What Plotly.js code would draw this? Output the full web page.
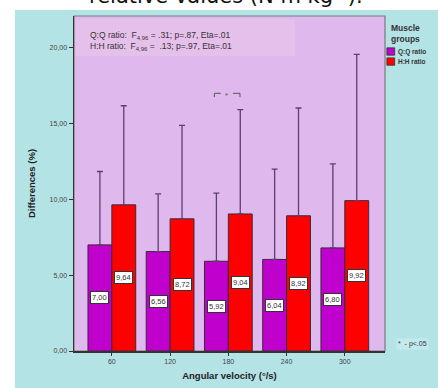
<!DOCTYPE html>
<html><head><meta charset="utf-8">
<script src="https://cdn.plot.ly/plotly-3.0.1.min.js"></script>
<style>html,body{margin:0;padding:0;background:#fff;}#chart{width:438px;height:388px;}</style>
</head><body><div id="chart"></div>
<script>
const categories = ['60', '120', '180', '240', '300'];
const seriesNames = ['Q:Q ratio', 'H:H ratio'];
const seriesColors = ['#c000cc', '#ff0000'];
const qqValues = [7.00, 6.56, 5.92, 6.04, 6.80];
const hhValues = [9.64, 8.72, 9.04, 8.92, 9.92];
const qqSD = [4.84, 3.81, 4.50, 5.96, 5.55];
const hhSD = [6.54, 6.16, 6.88, 7.11, 9.65];
const yTicks = [0, 5, 10, 15, 20];
const sigCategories = ['180'];
const sigHeights = [17.0];

const FONT = 'Liberation Sans, Arial';
const idx = categories.map((c, i) => i);
const off = 0.205;
const fmt = v => v.toFixed(2).replace('.', ',');
const values = [qqValues, hhValues];
const sds = [qqSD, hhSD];

const traces = values.map((vals, s) => ({
  type: 'bar', name: seriesNames[s], x: idx, y: vals,
  marker: {color: seriesColors[s], line: {color: '#3a2a3a', width: 1}},
  error_y: {type: 'data', array: sds[s], arrayminus: vals.map(() => 0), symmetric: false,
            color: '#5d3f6e', thickness: 1.3, width: 3},
  hoverinfo: 'skip', showlegend: false
}));

const annotations = [];
const labelStyle = {showarrow: false, bgcolor: '#ffffff', bordercolor: '#333333', borderwidth: 1,
  borderpad: 1, font: {family: FONT, size: 7.5, color: '#333'}};
values.forEach((vals, s) => vals.forEach((v, i) =>
  annotations.push(Object.assign({x: i + (s === 0 ? -off : off), y: v / 2, xref: 'x', yref: 'y', text: fmt(v)}, labelStyle))));

// title (cropped at top)
annotations.push({xref: 'paper', yref: 'paper', x: 0.49, y: 1.03, yanchor: 'bottom', xanchor: 'center',
  yshift: -4, showarrow: false, text: 'relative values (N m kg<sup>-1</sup>).',
  font: {family: 'DejaVu Sans, Verdana', size: 21, color: '#111'}});
// stats text
annotations.push({xref: 'paper', yref: 'paper', x: 0.045, y: 0.965, xanchor: 'left', yanchor: 'top', align: 'left',
  showarrow: false,
  text: 'Q:Q ratio:  F<sub>4,96</sub> = .31; p=.87, Eta=.01<br>H:H ratio:  F<sub>4,96</sub> =  .13; p=.97, Eta=.01',
  font: {family: FONT, size: 8.5, color: '#333'}});
// p<.05 note
annotations.push({xref: 'paper', yref: 'paper', x: 1.035, y: 0.022, xanchor: 'left', yanchor: 'middle',
  showarrow: false, text: '*  - p<.05', bgcolor: '#c2eaee',
  font: {family: FONT, size: 7, color: '#333'}});

// manual legend
annotations.push({xref: 'paper', yref: 'paper', x: 1.065, y: 0.985, xanchor: 'center', yanchor: 'top',
  showarrow: false, text: '<b>Muscle<br>groups</b>', font: {family: FONT, size: 8.5, color: '#333'}});

const shapes = [
  {type: 'rect', xref: 'paper', yref: 'paper', x0: -0.3, x1: 1.3, y0: 1.018, y1: 1.2, fillcolor: '#ffffff', line: {width: 0}, layer: 'above'},
  {type: 'rect', xref: 'paper', yref: 'paper', x0: -0.3, x1: -0.19, y0: -0.2, y1: 1.2, fillcolor: '#ffffff', line: {width: 0}, layer: 'above'},
  {type: 'rect', xref: 'paper', yref: 'paper', x0: 0.005, x1: 0.71, y0: 0.88, y1: 0.99, fillcolor: '#e5c0eb', line: {width: 0}, layer: 'below'},
  {type: 'rect', xref: 'paper', yref: 'paper', x0: 0, x1: 1, y0: 0, y1: 1, line: {color: '#7a7a7a', width: 1.2}, fillcolor: 'rgba(0,0,0,0)', layer: 'below'}
];
seriesNames.forEach((n, s) => {
  const yTop = 0.905 - s * 0.03;
  shapes.push({type: 'rect', xref: 'paper', yref: 'paper', x0: 1.006, x1: 1.031, y0: yTop - 0.022, y1: yTop,
    fillcolor: seriesColors[s], line: {color: '#333', width: 0.8}});
  annotations.push({xref: 'paper', yref: 'paper', x: 1.036, y: yTop - 0.011, xanchor: 'left', yanchor: 'middle',
    showarrow: false, text: '<b>' + n + '</b>', font: {family: FONT, size: 6.5, color: '#333'}});
});
sigCategories.forEach((c, k) => {
  const i = categories.indexOf(c);
  const h = sigHeights[k];
  shapes.push({type: 'path', xref: 'x', yref: 'y', path: `M ${i - 0.24} ${h - 0.25} L ${i - 0.24} ${h} L ${i - 0.13} ${h}`, line: {color: '#555', width: 1}});
  shapes.push({type: 'path', xref: 'x', yref: 'y', path: `M ${i + 0.08} ${h} L ${i + 0.2} ${h} L ${i + 0.2} ${h - 0.25}`, line: {color: '#555', width: 1}});
  annotations.push({xref: 'x', yref: 'y', x: i - 0.025, y: h, showarrow: false, text: '*', yshift: -2,
    font: {family: FONT, size: 8, color: '#555'}});
});

const layout = {
  width: 438, height: 388,
  margin: {l: 74, r: 53, t: 16, b: 37},
  paper_bgcolor: '#b4e3e6',
  plot_bgcolor: '#dfb9ee',
  separators: ',.',
  barmode: 'group', bargap: 0.18, bargroupgap: 0,
  showlegend: false,
  xaxis: {range: [-0.65, 4.69], tickvals: idx, ticktext: categories, ticks: 'outside', ticklen: 3,
    tickcolor: '#333', showline: true, linecolor: '#333', linewidth: 1.5, showgrid: false, zeroline: false,
    tickfont: {family: FONT, size: 7, color: '#444'},
    title: {text: '<b>Angular velocity (°/s)</b>', standoff: 8, font: {family: FONT, size: 9.5, color: '#222'}}},
  yaxis: {range: [0, 22.1], tickvals: yTicks, tickformat: '.2f', ticks: 'outside', ticklen: 4, tickcolor: '#333',
    showline: true, linecolor: '#333', linewidth: 1.5, showgrid: false, zeroline: false,
    tickfont: {family: FONT, size: 7, color: '#444'},
    title: {text: '<b>Differences (%)</b>', standoff: 12, font: {family: FONT, size: 9.5, color: '#222'}}},
  shapes: shapes,
  annotations: annotations
};

Plotly.newPlot('chart', traces, layout, {displayModeBar: false, staticPlot: true});
</script></body></html>
